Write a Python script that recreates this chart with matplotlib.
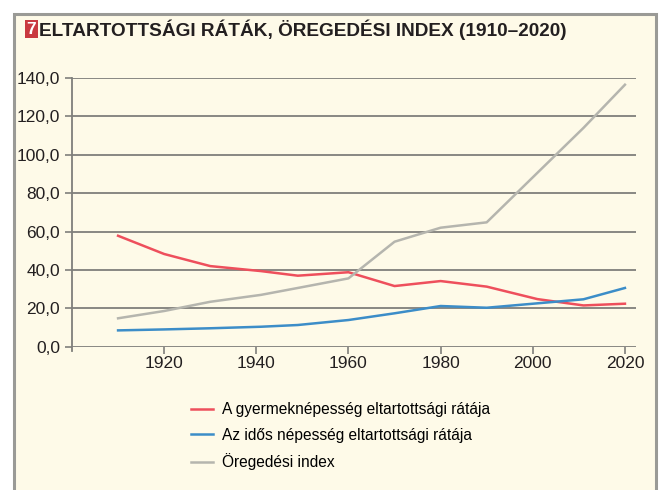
import matplotlib.pyplot as plt
from matplotlib.patches import Rectangle
from matplotlib import font_manager

# adatok (népszámlálási évek)
years = [1910, 1920, 1930, 1941, 1949, 1960, 1970, 1980, 1990, 2001, 2011, 2020]
child_ratio = [57.8, 48.3, 42.0, 39.4, 37.0, 38.8, 31.6, 34.2, 31.3, 24.8, 21.5, 22.4]
old_ratio = [8.5, 9.0, 9.6, 10.4, 11.3, 13.9, 17.4, 21.2, 20.3, 22.6, 24.7, 30.6]
aging_index = [14.8, 18.6, 23.4, 27.0, 30.6, 35.6, 54.7, 62.0, 64.8, 90.6, 114.0, 136.5]
labels = ["A gyermeknépesség eltartottsági rátája",
          "Az idős népesség eltartottsági rátája",
          "Öregedési index"]
title = "ELTARTOTTSÁGI RÁTÁK, ÖREGEDÉSI INDEX (1910–2020)"

# condensed font if we have it
names = {f.name for f in font_manager.fontManager.ttflist}
fam = "Liberation Sans Narrow" if "Liberation Sans Narrow" in names else "Liberation Sans"
plt.rcParams['font.family'] = [fam, 'DejaVu Sans']

bg = '#fefae8'
grid_c = '#7f7f7b'

fig = plt.figure(figsize=(6.61, 4.9), dpi=100)
fig.patch.set_facecolor('white')

# keret
fig.patches.append(Rectangle((14 / 661, -0.01), 642 / 661, 1 - 14 / 490 + 0.01,
                             transform=fig.transFigure, facecolor=bg,
                             edgecolor='#9a9a96', linewidth=2.2, zorder=-2))
# cím
fig.patches.append(Rectangle((24.5 / 661, 1 - 38.5 / 490), 13 / 661, 18 / 490,
                             transform=fig.transFigure, facecolor='#c9393f',
                             edgecolor='none', zorder=-1))
fig.text(31 / 661, 1 - 29.5 / 490, "7", color='white', fontsize=12.5, fontweight='bold',
         ha='center', va='center', zorder=5)
fig.text(39 / 661, 1 - 29.5 / 490, title, color='#231f20', fontsize=13.7, fontweight='bold',
         ha='left', va='center', zorder=5)

ax = fig.add_axes([72 / 661, 1 - 346.7 / 490, (636 - 72) / 661, (346.7 - 78) / 490])
ax.set_zorder(3)
ax.set_facecolor(bg)

ax.plot(years, child_ratio, color='#ee4f5c', linewidth=1.8, label=labels[0])
ax.plot(years, old_ratio, color='#3c8dc8', linewidth=1.8, label=labels[1])
ax.plot(years, aging_index, color='#b5b5ae', linewidth=1.8, label=labels[2])

ax.set_xlim(1900, 2022.4)
ax.set_ylim(0, 140)
ax.set_yticks(range(0, 141, 20))
ax.set_yticklabels([f"{v},0" for v in range(0, 141, 20)])
ax.set_xticks(range(1920, 2021, 20))

ax.grid(axis='y', color=grid_c, linewidth=1.3)
ax.set_axisbelow(True)
for s in ['top', 'right', 'bottom']:
    ax.spines[s].set_visible(False)
ax.spines['left'].set_color(grid_c)
ax.spines['left'].set_linewidth(1.3)
ax.spines['left'].set_bounds(-2, 140)
ax.tick_params(axis='both', colors=grid_c, labelcolor='#231f20', labelsize=12.5,
               width=1.2, length=5)
ax.tick_params(axis='x', pad=2)

leg = fig.legend(loc='upper left', bbox_to_anchor=(185 / 661, 1 - 396 / 490),
                 frameon=False, fontsize=11.2, handlelength=1.4, handletextpad=0.6,
                 labelspacing=0.68, borderaxespad=0)
leg.set_zorder(5)
for line in leg.get_lines():
    line.set_linewidth(1.8)

fig.savefig('out.png', dpi=100, facecolor='white')
